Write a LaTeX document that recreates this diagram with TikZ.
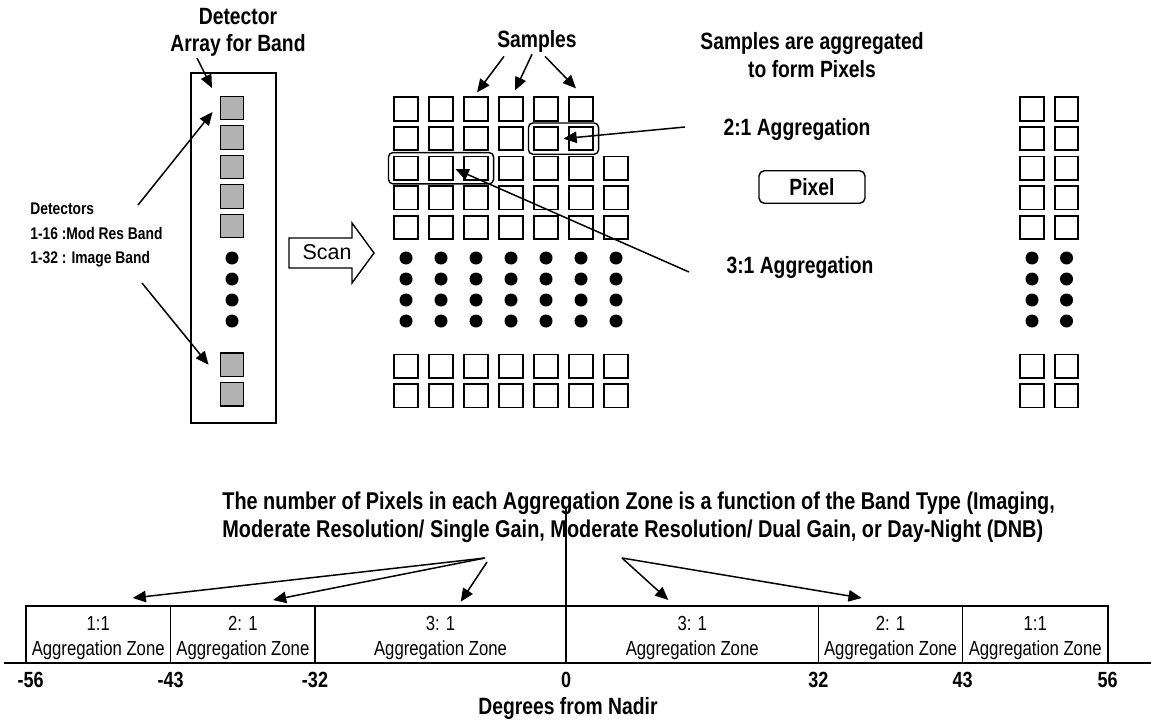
\documentclass[tikz,border=0pt]{standalone}
\usepackage{fontspec}
\setmainfont{Liberation Sans}
\newfontfamily\narrowfont{Liberation Sans}[FakeStretch=0.82]
\usetikzlibrary{arrows.meta}
\usetikzlibrary{calc}
\usetikzlibrary{fit}

\tikzset{
	>={Triangle[length=7.5pt,width=6.5pt]},
	cell/.style={draw, line width=1pt, minimum size=0.47cm, inner sep=0pt},
	detcell/.style={cell, fill=gray!60, line width=0.8pt},
	aggbox/.style={draw, rounded corners=2.5pt, line width=0.8pt, inner xsep=2.8pt, inner ysep=1.7pt},
	bigtxt/.style={font=\narrowfont\bfseries\fontsize{13.4}{15.5}\selectfont, inner sep=0pt, align=center},
	smalltxt/.style={font=\narrowfont\bfseries\fontsize{9.6}{13.9}\selectfont, inner sep=0pt, align=left},
	zonetxt/.style={font=\narrowfont\fontsize{11.6}{14.2}\selectfont, inner sep=0pt, align=center},
	numtxt/.style={font=\narrowfont\bfseries\fontsize{12.5}{15}\selectfont, inner sep=0pt},
	ptr/.style={->, line width=0.85pt},
}

\begin{document}
\begin{tikzpicture}[x=0.02cm, y=-0.02cm]
		\useasboundingbox (0,0) rectangle (1151,723);

		\draw [line width=1.1pt] (191,73) rectangle (276,423);
		\foreach \i in {1,...,5}
			\node [detcell] (det\i) at (232,{108+29.5*(\i-1)}) {};
		\node [detcell] (det6) at (232,364.7) {};
		\node [detcell] (det7) at (232,394.2) {};
		\foreach \k in {0,...,3}
			\fill (232,{258+21*\k}) circle (6.5);

		\node [bigtxt] (detlbl) at (238,32) {Detector\\Array for Band};
		\node [smalltxt, anchor=west] (detnote) at (30,235) {Detectors\\1-16 :Mod Res Band\\1-32 : Image Band};
		\coordinate (detlbl-tail) at (197,58);
		\coordinate (detnote-a) at (138,205);
		\coordinate (detnote-b) at (142,283);
		\draw [ptr] (detlbl-tail) -- (212,88);
		\draw [ptr] (detnote-a) -- ($(det1.west)+(-7,4)$);
		\draw [ptr] (detnote-b) -- ($(det6.west)+(-11,0)$);

		\draw [line width=0.8pt] (289,238) -- (352,238) -- (352,223) -- (374,253) -- (352,283) -- (352,268) -- (289,268) -- cycle;
		\node [font=\fontsize{12.2}{14}\selectfont, inner sep=0pt] (scan) at (327,252.5) {Scan};

		\foreach \r in {0,...,4}{
			\pgfmathtruncatemacro\lastcol{\r<2 ? 5 : 6}
			\foreach \c in {0,...,\lastcol}
				\node [cell] (smp-\r-\c) at ({406+35*\c},{109+29.6*\r}) {};
		}
		\foreach \r/\y in {5/366.2, 6/395.8}
			\foreach \c in {0,...,6}
				\node [cell] (smp-\r-\c) at ({406+35*\c},\y) {};
		\foreach \c in {0,...,6}
			\foreach \k in {0,...,3}
				\fill ({406+35*\c},{258+21*\k}) circle (6.5);

		\foreach \c/\x in {0/1032, 1/1066.5}{
			\foreach \r in {0,...,4}
				\node [cell] (pix-\r-\c) at (\x,{109+29.6*\r}) {};
			\node [cell] (pix-5-\c) at (\x,366.2) {};
			\node [cell] (pix-6-\c) at (\x,395.8) {};
			\foreach \k in {0,...,3}
				\fill (\x,{258+21*\k}) circle (6.5);
		}

		\node [aggbox, fit=(smp-1-4)(smp-1-5)] (agg2) {};
		\node [aggbox, fit=(smp-2-0)(smp-2-2)] (agg3) {};

		\node [bigtxt] (smplbl) at (537,41) {Samples};
		\draw [ptr] ($(smplbl.south)+(-33,4)$) -- ($(smp-0-2.north)+(1,-4)$);
		\draw [ptr] ($(smplbl.south)+(-5,2)$) -- ($(smp-0-3.north)+(4,-6)$);
		\draw [ptr] ($(smplbl.south)+(8,4)$) -- ($(smp-0-5.north)+(-5,-8)$);

		\node [bigtxt] (agglbl) at (812,55) {Samples are aggregated\\to form Pixels};
		\node [bigtxt] (agg2lbl) at (797,129) {2:1 Aggregation};
		\node [draw, rounded corners=3pt, line width=0.8pt, minimum width=2.12cm, minimum height=0.65cm,
			font=\narrowfont\bfseries\fontsize{13.4}{15.5}\selectfont] (pixel) at (812,187) {Pixel};
		\node [bigtxt] (agg3lbl) at (800,267) {3:1 Aggregation};
		\coordinate (agg2-tail) at (685,127);
		\coordinate (agg3-tail) at (689,272);
		\draw [ptr] (agg2-tail) -- (agg2.center);
		\draw [ptr] (agg3-tail) -- ($(agg3.center)+(14.6,1)$);

		\node [bigtxt, font=\narrowfont\bfseries\fontsize{13.8}{15.9}\selectfont, align=left, anchor=west] (bandtxt) at (222,517.7)
			{The number of Pixels in each Aggregation Zone is a function of the Band Type (Imaging,\\Moderate Resolution/ Single Gain, Moderate Resolution/ Dual Gain, or Day-Night (DNB)};

		\draw [line width=1.1pt] (25.7,605.7) rectangle (1107.7,663.3);
		\foreach \x in {170.7,315,818.3,962.7}
			\draw [line width=0.8pt] (\x,605.7) -- (\x,663.3);
		\draw [line width=1.1pt] (4,663.3) -- (1151,663.3);
		\draw [line width=0.8pt] (566,508) -- (566,663.3);

		\foreach \n/\x/\t in {z1/98.2/1:1, z2/242.9/2: 1, z3/440.5/3: 1, z4/692.2/3: 1, z5/890.5/2: 1, z6/1035.2/1:1}
			\node [zonetxt] (\n) at (\x,638) {\t\\Aggregation Zone};

		\foreach \n/\x/\t in {m56/30.7/-56, m43/170.7/-43, m32/315/-32, p0/566/0, p32/818.3/32, p43/962.7/43, p56/1107.7/56}
			\node [numtxt] (\n) at (\x,680) {\t};
		\node [bigtxt] (axislbl) at (568,708) {Degrees from Nadir};

		\coordinate (band-l) at (485,558);
		\coordinate (band-l2) at (487,562);
		\coordinate (band-r) at (622,558);
		\coordinate (tip-z1) at (132.7,598);
		\coordinate (tip-z2) at (273,600);
		\coordinate (tip-z3) at (460.7,601.7);
		\coordinate (tip-z4) at (668.3,600);
		\coordinate (tip-z5) at (861.7,598);
		\draw [ptr] (band-l) -- (tip-z1);
		\draw [ptr] (band-l) -- (tip-z2);
		\draw [ptr] (band-l2) -- (tip-z3);
		\draw [ptr] (band-r) -- (tip-z4);
		\draw [ptr] (band-r) -- (tip-z5);
	\end{tikzpicture}
\end{document}
